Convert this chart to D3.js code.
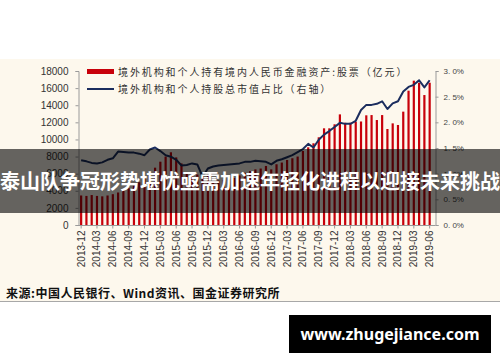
<!DOCTYPE html>
<html>
<head>
<meta charset="utf-8">
<title>境外持股</title>
<style>
  body { margin: 0; background: #fff; }
  svg { display: block; }
</style>
</head>
<body>
<div id="chart"></div>
<script src="https://cdn.jsdelivr.net/npm/d3@7"></script>
<script>
// monthly, 2013-12 .. 2019-06
var months = d3.timeMonth.range(new Date(2013, 11, 1), new Date(2019, 6, 1)).map(d3.timeFormat("%Y-%m"));

// 境外机构和个人持有境内人民币金融资产:股票 (亿元)
var holdings = [
  3450, 3400, 3500, 3400, 3350, 3450, 3600, 3800, 4000, 4300, 4600, 5000,
  5550, 6100, 6700, 7400, 8000, 8500, 7900, 7200, 6200, 5800, 5900, 5700,
  5900, 4950, 5200, 5300, 5400, 5500, 5800, 6100, 6300, 6500, 6600, 6900,
  6500, 7100, 7300, 7600, 7800, 8000, 8650, 9080, 9550, 10250, 11300, 11300,
  11770, 12930, 11950, 11950, 12070, 12100, 12820, 12850, 12270, 12850, 11220, 11880,
  11690, 13250, 15700, 16870, 16630, 15190, 16630
];

// 境外机构和个人持股总市值占比 (%)
var ratio = [
  1.26, 1.24, 1.21, 1.20, 1.22, 1.27, 1.30, 1.43, 1.42, 1.41, 1.41, 1.39,
  1.36, 1.47, 1.51, 1.44, 1.36, 1.33, 1.27, 1.16, 1.17, 1.20, 1.18, 0.94,
  1.10, 1.14, 1.16, 1.17, 1.18, 1.19, 1.20, 1.23, 1.23, 1.25, 1.24, 1.23,
  1.18, 1.25, 1.28, 1.32, 1.36, 1.42, 1.48, 1.58, 1.51, 1.66, 1.76, 1.83,
  1.91, 1.99, 1.97, 1.97, 2.03, 2.24, 2.34, 2.34, 2.36, 2.41, 2.26, 2.37,
  2.41, 2.60, 2.69, 2.73, 2.82, 2.68, 2.82
];

var leftTicks = [0, 2000, 4000, 6000, 8000, 10000, 12000, 14000, 16000, 18000];
var rightTicks = [0, 0.5, 1.0, 1.5, 2.0, 2.5, 3.0];
var legendNames = ["境外机构和个人持有境内人民币金融资产:股票（亿元）", "境外机构和个人持股总市值占比（右轴）"];
var title = "泰山队争冠形势堪忧亟需加速年轻化进程以迎接未来挑战";
var source = "来源:中国人民银行、Wind资讯、国金证券研究所";
var site = "www.zhugejiance.com";

var W = 500, H = 362;
var svg = d3.select("#chart").append("svg").attr("width", W).attr("height", H);

// cream panel of the original chart
svg.append("rect").attr("x", 0).attr("y", 59).attr("width", W).attr("height", 242).attr("fill", "#fdf8ed");
svg.append("line").attr("x1", 0).attr("x2", W).attr("y1", 301.5).attr("y2", 301.5)
   .attr("stroke", "#a8a8a8").attr("stroke-width", 1);

var x = d3.scaleBand().domain(months).range([78.5, 432.3]).padding(0);
var yL = d3.scaleLinear().domain([0, 18000]).range([225, 71]);
var yR = d3.scaleLinear().domain([0, 3]).range([225, 71]);

var axisColor = "#9a9a9a";

// bars
svg.append("g").selectAll("rect").data(holdings).enter().append("rect")
   .attr("x", function(d, i) { return x(months[i]) + x.bandwidth() / 2 - 1.1; })
   .attr("y", function(d) { return yL(d); })
   .attr("width", 2.2)
   .attr("height", function(d) { return yL(0) - yL(d); })
   .attr("fill", "#c8000a");

// line
var line = d3.line()
   .x(function(d, i) { return x(months[i]) + x.bandwidth() / 2; })
   .y(function(d) { return yR(d); });
svg.append("path").datum(ratio).attr("d", line)
   .attr("fill", "none").attr("stroke", "#1b2d5e").attr("stroke-width", 2).attr("stroke-linejoin", "round");

// left axis
var gL = svg.append("g").attr("transform", "translate(78.5,0)")
   .call(d3.axisLeft(yL).tickValues(leftTicks).tickSize(3).tickPadding(7).tickFormat(d3.format("d")));
gL.selectAll("text").attr("font-family", "Liberation Sans, Arial, sans-serif").attr("font-size", 10).attr("fill", "#333");

// right axis
var gR = svg.append("g").attr("transform", "translate(435.5,0)")
   .call(d3.axisRight(yR).tickValues(rightTicks).tickSize(3).tickPadding(5)
   .tickFormat(function(d) { return d3.format(".1f")(d).replace(".", ". ") + "%"; }));
gR.selectAll("text").attr("font-family", "Liberation Sans, Arial, sans-serif").attr("font-size", 8).attr("fill", "#444");

// x axis
var gX = svg.append("g").attr("transform", "translate(0,225.5)")
   .call(d3.axisBottom(x).tickValues(months.filter(function(d, i) { return i % 3 === 0; })).tickSize(3));
gX.select(".domain").remove();
gX.append("line").attr("x1", 78.5).attr("x2", 435.5).attr("stroke", axisColor);
gX.selectAll("text")
   .attr("transform", "rotate(-90)")
   .attr("text-anchor", "end")
   .attr("x", -5).attr("y", 0).attr("dy", "0.35em")
   .attr("font-family", "Liberation Sans, Arial, sans-serif").attr("font-size", 10).attr("fill", "#333");

[gL, gR, gX].forEach(function(g) {
  g.selectAll(".domain, .tick line").attr("stroke", axisColor);
});

// legend
var lg = svg.append("g");
lg.append("rect").attr("x", 87).attr("y", 69).attr("width", 27).attr("height", 5).attr("fill", "#c8000a");
lg.append("line").attr("x1", 87).attr("x2", 114).attr("y1", 89).attr("y2", 89).attr("stroke", "#1b2d5e").attr("stroke-width", 2);
lg.selectAll("text").data(legendNames).enter().append("text")
   .attr("x", 118).attr("y", function(d, i) { return 72 + i * 17.5; })
   .attr("dy", "0.35em")
   .attr("font-family", "Noto Sans CJK SC, sans-serif").attr("font-size", 10)
   .attr("letter-spacing", 1.9).attr("fill", "#333")
   .text(function(d) { return d; });

// source
svg.append("text").attr("x", 6).attr("y", 293.5).attr("dy", "0.35em")
   .attr("font-family", "Noto Sans CJK SC, sans-serif").attr("font-size", 12).attr("font-weight", "bold")
   .attr("letter-spacing", 0.5).attr("fill", "#111").text(source);

// title band
svg.append("rect").attr("x", 0).attr("y", 149).attr("width", W).attr("height", 64).attr("fill", "rgba(0,0,0,0.6)");
svg.append("text").attr("x", 250).attr("y", 182).attr("dy", "0.35em").attr("text-anchor", "middle")
   .attr("font-family", "Noto Sans CJK SC, sans-serif").attr("font-size", 20).attr("font-weight", "bold")
   .attr("fill", "#fff").text(title);

// site badge
svg.append("rect").attr("x", 289).attr("y", 315).attr("width", 202).attr("height", 38).attr("fill", "#000");
svg.append("text").attr("x", 390).attr("y", 334).attr("dy", "0.35em").attr("text-anchor", "middle")
   .attr("font-family", "Noto Sans, sans-serif").attr("font-size", 16).attr("font-weight", "bold")
   .attr("fill", "#fff").text(site);
</script>
</body>
</html>
